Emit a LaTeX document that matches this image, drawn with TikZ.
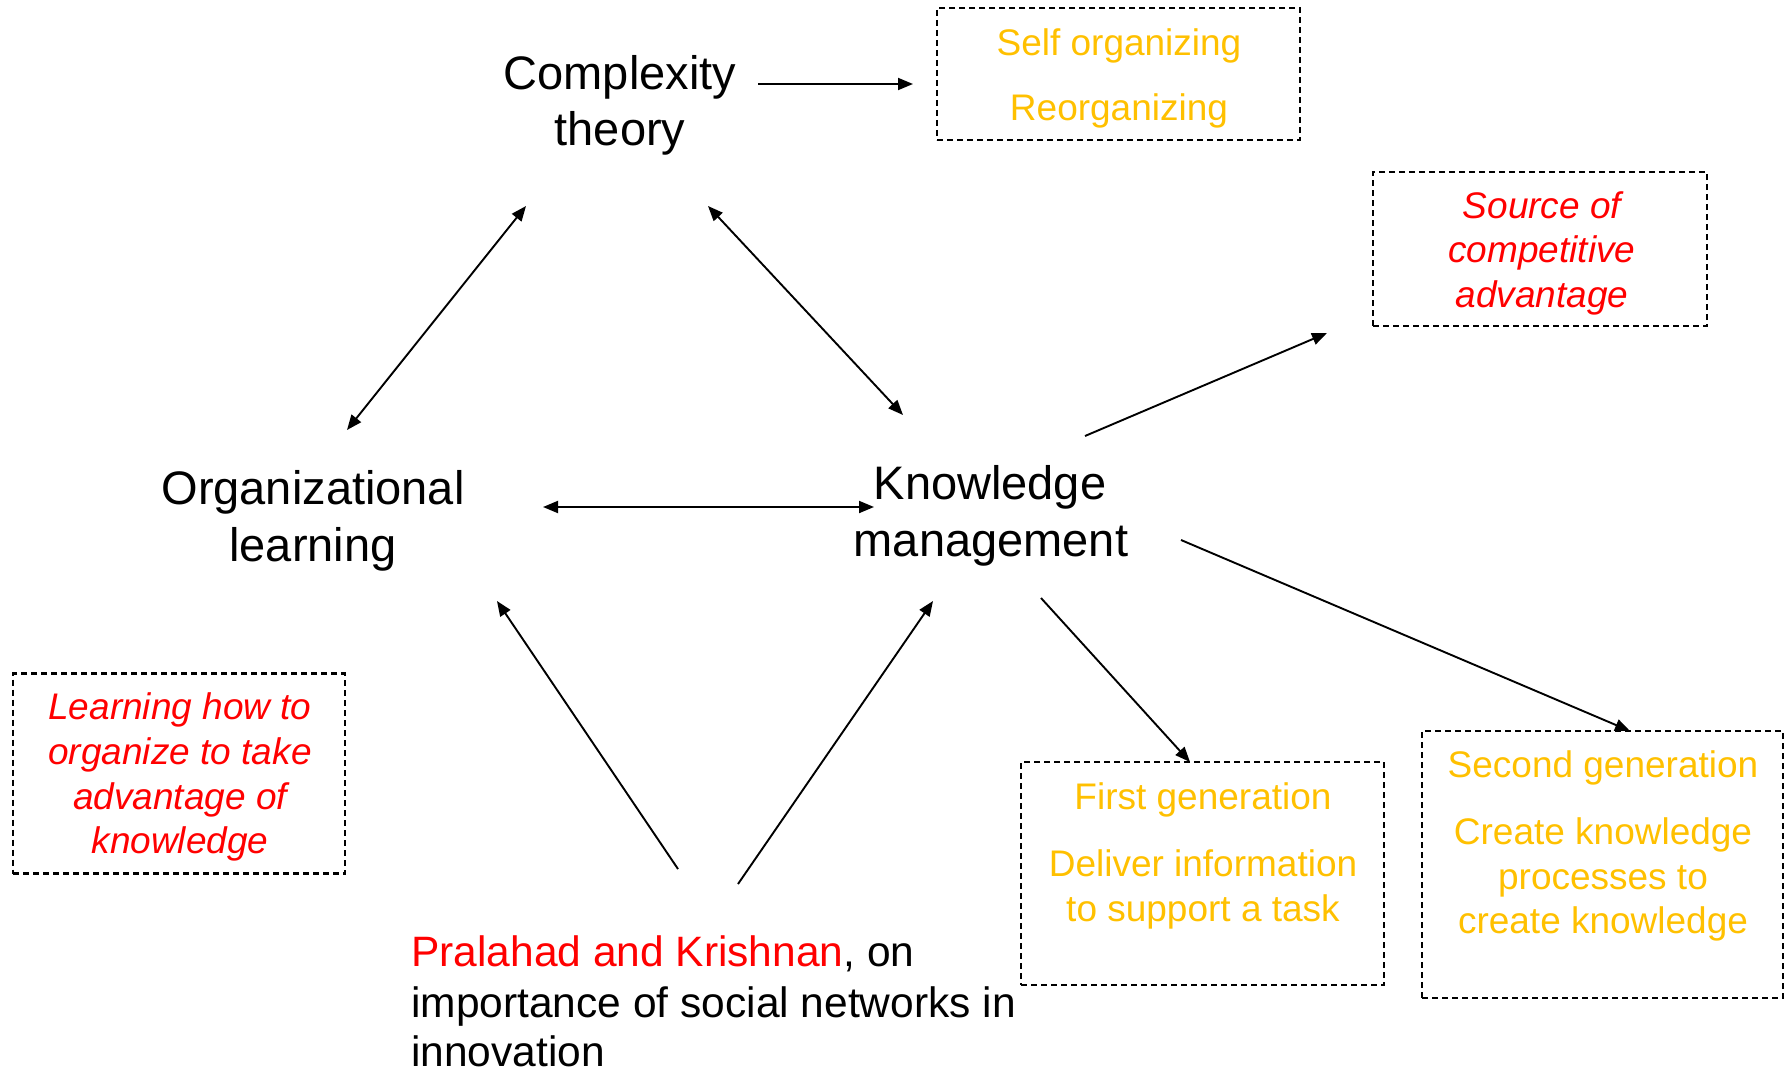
\documentclass[tikz,border=0pt]{standalone}
\usepackage{fontspec}
\setmainfont{Liberation Sans}
\usetikzlibrary{arrows.meta}
\definecolor{gold}{HTML}{FFC000}
\definecolor{hot}{HTML}{FF0000}
\begin{document}
\begin{tikzpicture}[x=1pt,y=-1pt,
  big/.style={anchor=base,inner sep=0pt,font=\fontsize{47}{52}\selectfont},
  mid/.style={anchor=base,inner sep=0pt,font=\fontsize{37}{44}\selectfont},
  note/.style={mid,text=gold},
  cite/.style={mid,text=hot,font=\fontsize{37}{44}\selectfont\itshape},
  ref/.style={anchor=base west,inner sep=0pt,font=\fontsize{42.5}{50}\selectfont},
  dbox/.style={draw,dashed,dash pattern=on 6pt off 4pt,line width=2.2pt,inner sep=0pt},
  link/.style={line width=1.9pt,-{Triangle[length=15pt,width=12pt]}},
  dlink/.style={line width=1.9pt,{Triangle[length=15pt,width=12pt]}-{Triangle[length=15pt,width=12pt]}}]
\useasboundingbox (0,0) rectangle (1789,1073);

% main concepts
\node[big] (ct1) at (620,89) {Complexity};
\node[big] (ct2) at (620,145) {theory};
\node[big] (ol1) at (313,504) {Organizational};
\node[big] (ol2) at (313,561) {learning};
\node[big] (km1) at (990,499) {Knowledge};
\node[big] (km2) at (991,556) {management};

% dashed boxes
\node[dbox,minimum width=363pt,minimum height=132pt] (selfbox) at (1118.5,74) {};
\node[note] (s1) at (1119,56) {Self organizing};
\node[note] (s2) at (1119,121) {Reorganizing};

\node[dbox,minimum width=334pt,minimum height=154pt] (srcbox) at (1540,249) {};
\node[cite] (c1) at (1542,218) {Source of};
\node[cite] (c2) at (1542,262) {competitive};
\node[cite] (c3) at (1542,307) {advantage};

\node[dbox,minimum width=332pt,minimum height=200pt] (learnbox) at (179,773.5) {};
\node[cite] (l1) at (180,719) {Learning how to};
\node[cite] (l2) at (180,764) {organize to take};
\node[cite] (l3) at (180,809) {advantage of};
\node[cite] (l4) at (180,853) {knowledge};

\node[dbox,minimum width=363pt,minimum height=223pt] (firstbox) at (1202.5,873.5) {};
\node[note] (f1) at (1203,809) {First generation};
\node[note] (f2) at (1203,876) {Deliver information};
\node[note] (f3) at (1203,921) {to support a task};

\node[dbox,minimum width=361pt,minimum height=267pt] (secbox) at (1602.5,864.5) {};
\node[note] (g1) at (1603,777) {Second generation};
\node[note] (g2) at (1603,844) {Create knowledge};
\node[note] (g3) at (1603,889) {processes to};
\node[note] (g4) at (1603,933) {create knowledge};

% reference
\node[ref] (p1) at (411,966) {\textcolor{hot}{Pralahad and Krishnan}, on};
\node[ref] (p2) at (411,1017) {importance of social networks in};
\node[ref] (p3) at (411,1066) {innovation};

% connector ends
\coordinate (ct-e) at (758,84);
\coordinate (self-w) at (913,84);
\coordinate (ct-sw) at (526,206);
\coordinate (ct-se) at (708,206);
\coordinate (ol-ne) at (347,430);
\coordinate (ol-e) at (543,507);
\coordinate (ol-s) at (497,601);
\coordinate (km-nw) at (903,415);
\coordinate (km-w) at (874,507);
\coordinate (km-ne) at (1085,436);
\coordinate (km-s) at (933,601);
\coordinate (km-se) at (1041,598);
\coordinate (km-e) at (1181,540);
\coordinate (src-sw) at (1327,333);
\coordinate (first-n) at (1190,762);
\coordinate (sec-n) at (1630,731);
\coordinate (p-l) at (678,869);
\coordinate (p-r) at (738,884);

% connectors
\draw[link] (ct-e) -- (self-w);
\draw[dlink] (ct-sw) -- (ol-ne);
\draw[dlink] (ct-se) -- (km-nw);
\draw[dlink] (ol-e) -- (km-w);
\draw[link] (km-ne) -- (src-sw);
\draw[link] (km-se) -- (first-n);
\draw[link] (km-e) -- (sec-n);
\draw[link] (p-l) -- (ol-s);
\draw[link] (p-r) -- (km-s);
\end{tikzpicture}
\end{document}
